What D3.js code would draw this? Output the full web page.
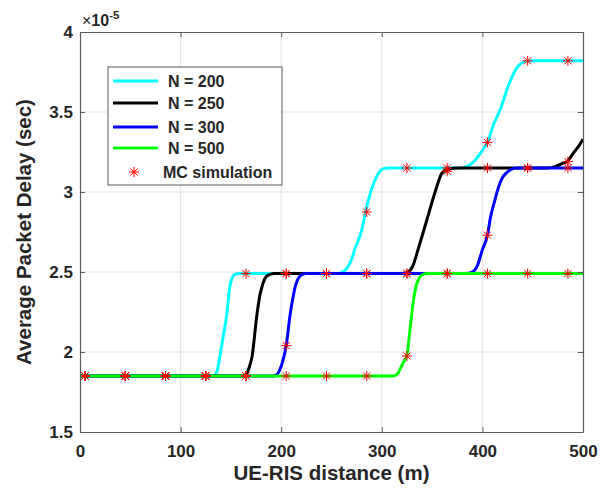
<!DOCTYPE html>
<html>
<head>
<meta charset="utf-8">
<script src="https://cdn.jsdelivr.net/npm/d3@7"></script>
<style>
  body { margin: 0; background: #fff; }
  text { font-family: "Liberation Sans", Arial, sans-serif; font-weight: bold; fill: #262626; }
</style>
</head>
<body>
<div id="vis"></div>
<script>
// values, y in units of 1e-5 sec
let curve200 = [[0,1.85],[130,1.85],[134,1.855],[137,1.9],[139,1.97],[143,2.12],[146,2.24],[149,2.41],[151,2.46],[154,2.485],[158,2.49],
  [256,2.49],[261,2.50],[266,2.53],[270,2.58],[273,2.64],[280,2.76],[284,2.88],[290,3.02],[296,3.11],[300,3.14],[305,3.15],
  [378,3.15],[385,3.16],[393,3.2],[400,3.26],[405,3.31],[411,3.42],[418,3.52],[425,3.65],[431,3.74],[436,3.79],[442,3.815],[450,3.82],[500,3.82]];
let curve250 = [[0,1.85],[162,1.85],[165,1.86],[168,1.9],[171,1.97],[176,2.24],[179,2.36],[181,2.41],[185,2.47],[189,2.485],[193,2.49],
  [320,2.49],[326,2.50],[331,2.54],[336,2.64],[345,2.83],[353,3.0],[360,3.12],[365,3.14],[370,3.148],[376,3.15],
  [465,3.15],[473,3.16],[480,3.18],[485,3.195],[490,3.24],[495,3.28],[500,3.33]];
let curve300 = [[0,1.85],[192,1.85],[195,1.855],[198,1.88],[201,1.93],[205,2.04],[209,2.24],[212,2.35],[214,2.41],[217,2.46],[221,2.485],[225,2.49],
  [384,2.49],[390,2.50],[395,2.54],[400,2.64],[405,2.73],[408,2.84],[412,2.94],[416,3.03],[420,3.09],[424,3.12],[428,3.14],[434,3.15],[500,3.15]];
let curve500 = [[0,1.85],[311,1.85],[315,1.86],[318,1.89],[321,1.93],[325,1.98],[328,2.14],[331,2.3],[334,2.41],[337,2.46],[341,2.485],[345,2.49],[500,2.49]];

let mcX = [5, 45, 85, 125, 165, 205, 245, 285, 325, 365, 405, 445, 485];
let mc200 = [1.85, 1.85, 1.85, 1.85, 2.49, 2.49, 2.49, 2.875, 3.15, 3.15, 3.31, 3.82, 3.82];
let mc250 = [1.85, 1.85, 1.85, 1.85, 1.85, 2.49, 2.49, 2.49, 2.49, 3.13, 3.15, 3.15, 3.19];
let mc300 = [1.85, 1.85, 1.85, 1.85, 1.85, 2.04, 2.49, 2.49, 2.49, 2.49, 2.73, 3.15, 3.15];
let mc500 = [1.85, 1.85, 1.85, 1.85, 1.85, 1.85, 1.85, 1.85, 1.975, 2.49, 2.49, 2.49, 2.49];

let seriesNames = ["N = 200", "N = 250", "N = 300", "N = 500"];
let seriesColors = ["#00ffff", "#000000", "#0000ff", "#00ff00"];
let xTicks = [0, 100, 200, 300, 400, 500];
let yTicks = [1.5, 2, 2.5, 3, 3.5, 4];

let width = 609, height = 493;
let margin = {top: 32, right: 26, bottom: 61, left: 80};

let svg = d3.select("#vis").append("svg")
  .attr("width", width).attr("height", height);

let x = d3.scaleLinear().domain([0, 500]).range([margin.left, width - margin.right]);
let y = d3.scaleLinear().domain([1.5, 4]).range([height - margin.bottom, margin.top]);

// grid
let grid = svg.append("g").attr("stroke", "#e3e3e3").attr("stroke-width", 1);
grid.selectAll(".gx").data(xTicks.slice(1, -1)).join("line")
  .attr("x1", d => x(d)).attr("x2", d => x(d))
  .attr("y1", y(1.5)).attr("y2", y(4));
grid.selectAll(".gy").data(yTicks.slice(1, -1)).join("line")
  .attr("x1", x(0)).attr("x2", x(500))
  .attr("y1", d => y(d)).attr("y2", d => y(d));

// curves
let curves = [curve200, curve250, curve300, curve500];
let mcs = [mc200, mc250, mc300, mc500];
let line = d3.line().x(d => x(d[0])).y(d => y(d[1])).curve(d3.curveMonotoneX);

svg.append("g").selectAll("path").data(curves).join("path")
  .attr("d", line)
  .attr("fill", "none")
  .attr("stroke", (d, i) => seriesColors[i])
  .attr("stroke-width", 3)
  .attr("stroke-linejoin", "round");

// asterisk marker
function star(cx, cy, r) {
  let a = r * 0.707;
  return `M${cx - r},${cy}L${cx + r},${cy}M${cx},${cy - r}L${cx},${cy + r}` +
    `M${cx - a},${cy - a}L${cx + a},${cy + a}M${cx - a},${cy + a}L${cx + a},${cy - a}`;
}

let markers = svg.append("g").attr("stroke", "#ff0000").attr("stroke-width", 1).attr("fill", "none");
mcs.forEach(vals => {
  markers.selectAll(null).data(vals).join("path")
    .attr("d", (d, i) => star(x(mcX[i]), y(d), 5));
});

// axes with inward ticks on all sides
let axisColor = "#5a5a5a";
let axB = svg.append("g").attr("transform", `translate(0,${y(1.5)})`)
  .call(d3.axisBottom(x).tickValues(xTicks).tickSizeInner(-5).tickSizeOuter(0).tickPadding(13));
let axT = svg.append("g").attr("transform", `translate(0,${y(4)})`)
  .call(d3.axisTop(x).tickValues(xTicks).tickSizeInner(-5).tickSizeOuter(0).tickFormat(""));
let axL = svg.append("g").attr("transform", `translate(${x(0)},0)`)
  .call(d3.axisLeft(y).tickValues(yTicks).tickSizeInner(-5).tickSizeOuter(0).tickPadding(7).tickFormat(d3.format("")));
let axR = svg.append("g").attr("transform", `translate(${x(500)},0)`)
  .call(d3.axisRight(y).tickValues(yTicks).tickSizeInner(-5).tickSizeOuter(0).tickFormat(""));

[axB, axT, axL, axR].forEach(g => {
  g.select(".domain").attr("stroke", axisColor).attr("stroke-width", 1.2);
  g.selectAll(".tick line").attr("stroke", axisColor);
  g.selectAll("text").attr("font-size", 17).attr("fill", "#262626")
    .attr("font-family", "Liberation Sans, Arial, sans-serif").attr("font-weight", "bold");
});

// exponent
let ex = svg.append("text").attr("x", x(0) + 2).attr("y", 26).attr("font-size", 16);
ex.append("tspan").attr("font-weight", "normal").text("\u00d7");
ex.append("tspan").text("10");
ex.append("tspan").attr("dy", -7).attr("font-size", 11.5).text("-5");

// axis titles
svg.append("text").attr("x", (x(0) + x(500)) / 2).attr("y", 480)
  .attr("text-anchor", "middle").attr("font-size", 20.5).text("UE-RIS distance (m)");
svg.append("text").attr("transform", `translate(31,${(y(1.5) + y(4)) / 2}) rotate(-90)`)
  .attr("text-anchor", "middle").attr("font-size", 20.5).text("Average Packet Delay (sec)");

// legend
let lg = svg.append("g");
lg.append("rect").attr("x", 108).attr("y", 67).attr("width", 174).attr("height", 118)
  .attr("fill", "#fff").attr("stroke", "#5a5a5a").attr("stroke-width", 1);
let rowY = [81, 103, 127, 148, 172];
seriesNames.forEach((name, i) => {
  lg.append("line").attr("x1", 113).attr("x2", 158).attr("y1", rowY[i]).attr("y2", rowY[i])
    .attr("stroke", seriesColors[i]).attr("stroke-width", 3);
  lg.append("text").attr("x", 168).attr("y", rowY[i] + 6).attr("font-size", 16).text(name);
});
lg.append("path").attr("d", star(134, rowY[4], 5)).attr("stroke", "#ff0000").attr("fill", "none");
lg.append("text").attr("x", 163).attr("y", rowY[4] + 6).attr("font-size", 16).text("MC simulation");
</script>
</body>
</html>
